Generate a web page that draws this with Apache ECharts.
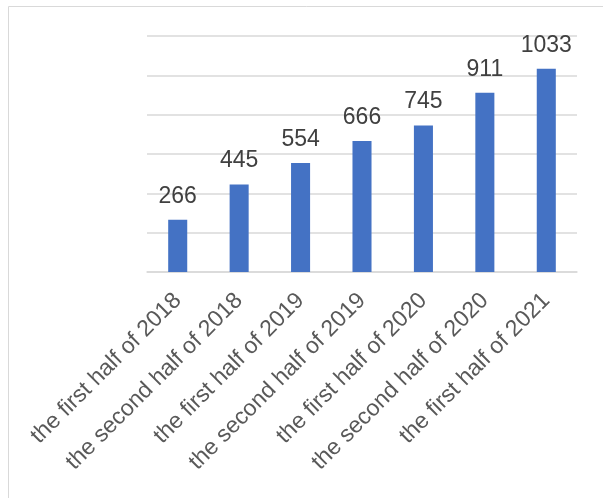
<!DOCTYPE html>
<html><head><meta charset="utf-8">
<script src="https://cdn.jsdelivr.net/npm/echarts@6/dist/echarts.min.js"></script>
<style>html,body{margin:0;padding:0;background:#fff}#c{width:603px;height:498px}</style>
</head><body><div id="c"></div>
<script>
const categories = ["the first half of 2018","the second half of 2018","the first half of 2019","the second half of 2019","the first half of 2020","the second half of 2020","the first half of 2021"];
const values = [266, 445, 554, 666, 745, 911, 1033];
const yTicks = {min: 0, max: 1200, interval: 200};

const chart = echarts.init(document.getElementById('c'));
chart.setOption({
  animation: false,
  graphic: [{type:'rect', shape:{x:8.5,y:6.5,width:700,height:600}, style:{fill:'none', stroke:'#d9d9d9', lineWidth:1}, silent:true}],
  grid: {left:147, right:26, top:36, bottom:226, containLabel:false},
  xAxis: {
    type:'category', data: categories,
    axisTick:{show:false},
    axisLine:{lineStyle:{color:'#d9d9d9', width:1.5}},
    axisLabel:{rotate:45, color:'#595959', fontSize:23, fontFamily:'Liberation Sans, Arial, sans-serif', margin:25, interval:0}
  },
  yAxis: {
    type:'value', min:yTicks.min, max:yTicks.max, interval:yTicks.interval,
    axisLabel:{show:false}, axisLine:{show:false}, axisTick:{show:false},
    splitLine:{lineStyle:{color:'#d9d9d9', width:1.5}}
  },
  series: [{
    type:'bar', data: values, barWidth:'31%',
    itemStyle:{color:'#4472c4'},
    label:{show:true, position:'top', distance:12, color:'#404040', fontSize:23, fontFamily:'Liberation Sans, Arial, sans-serif'}
  }]
});
</script></body></html>
